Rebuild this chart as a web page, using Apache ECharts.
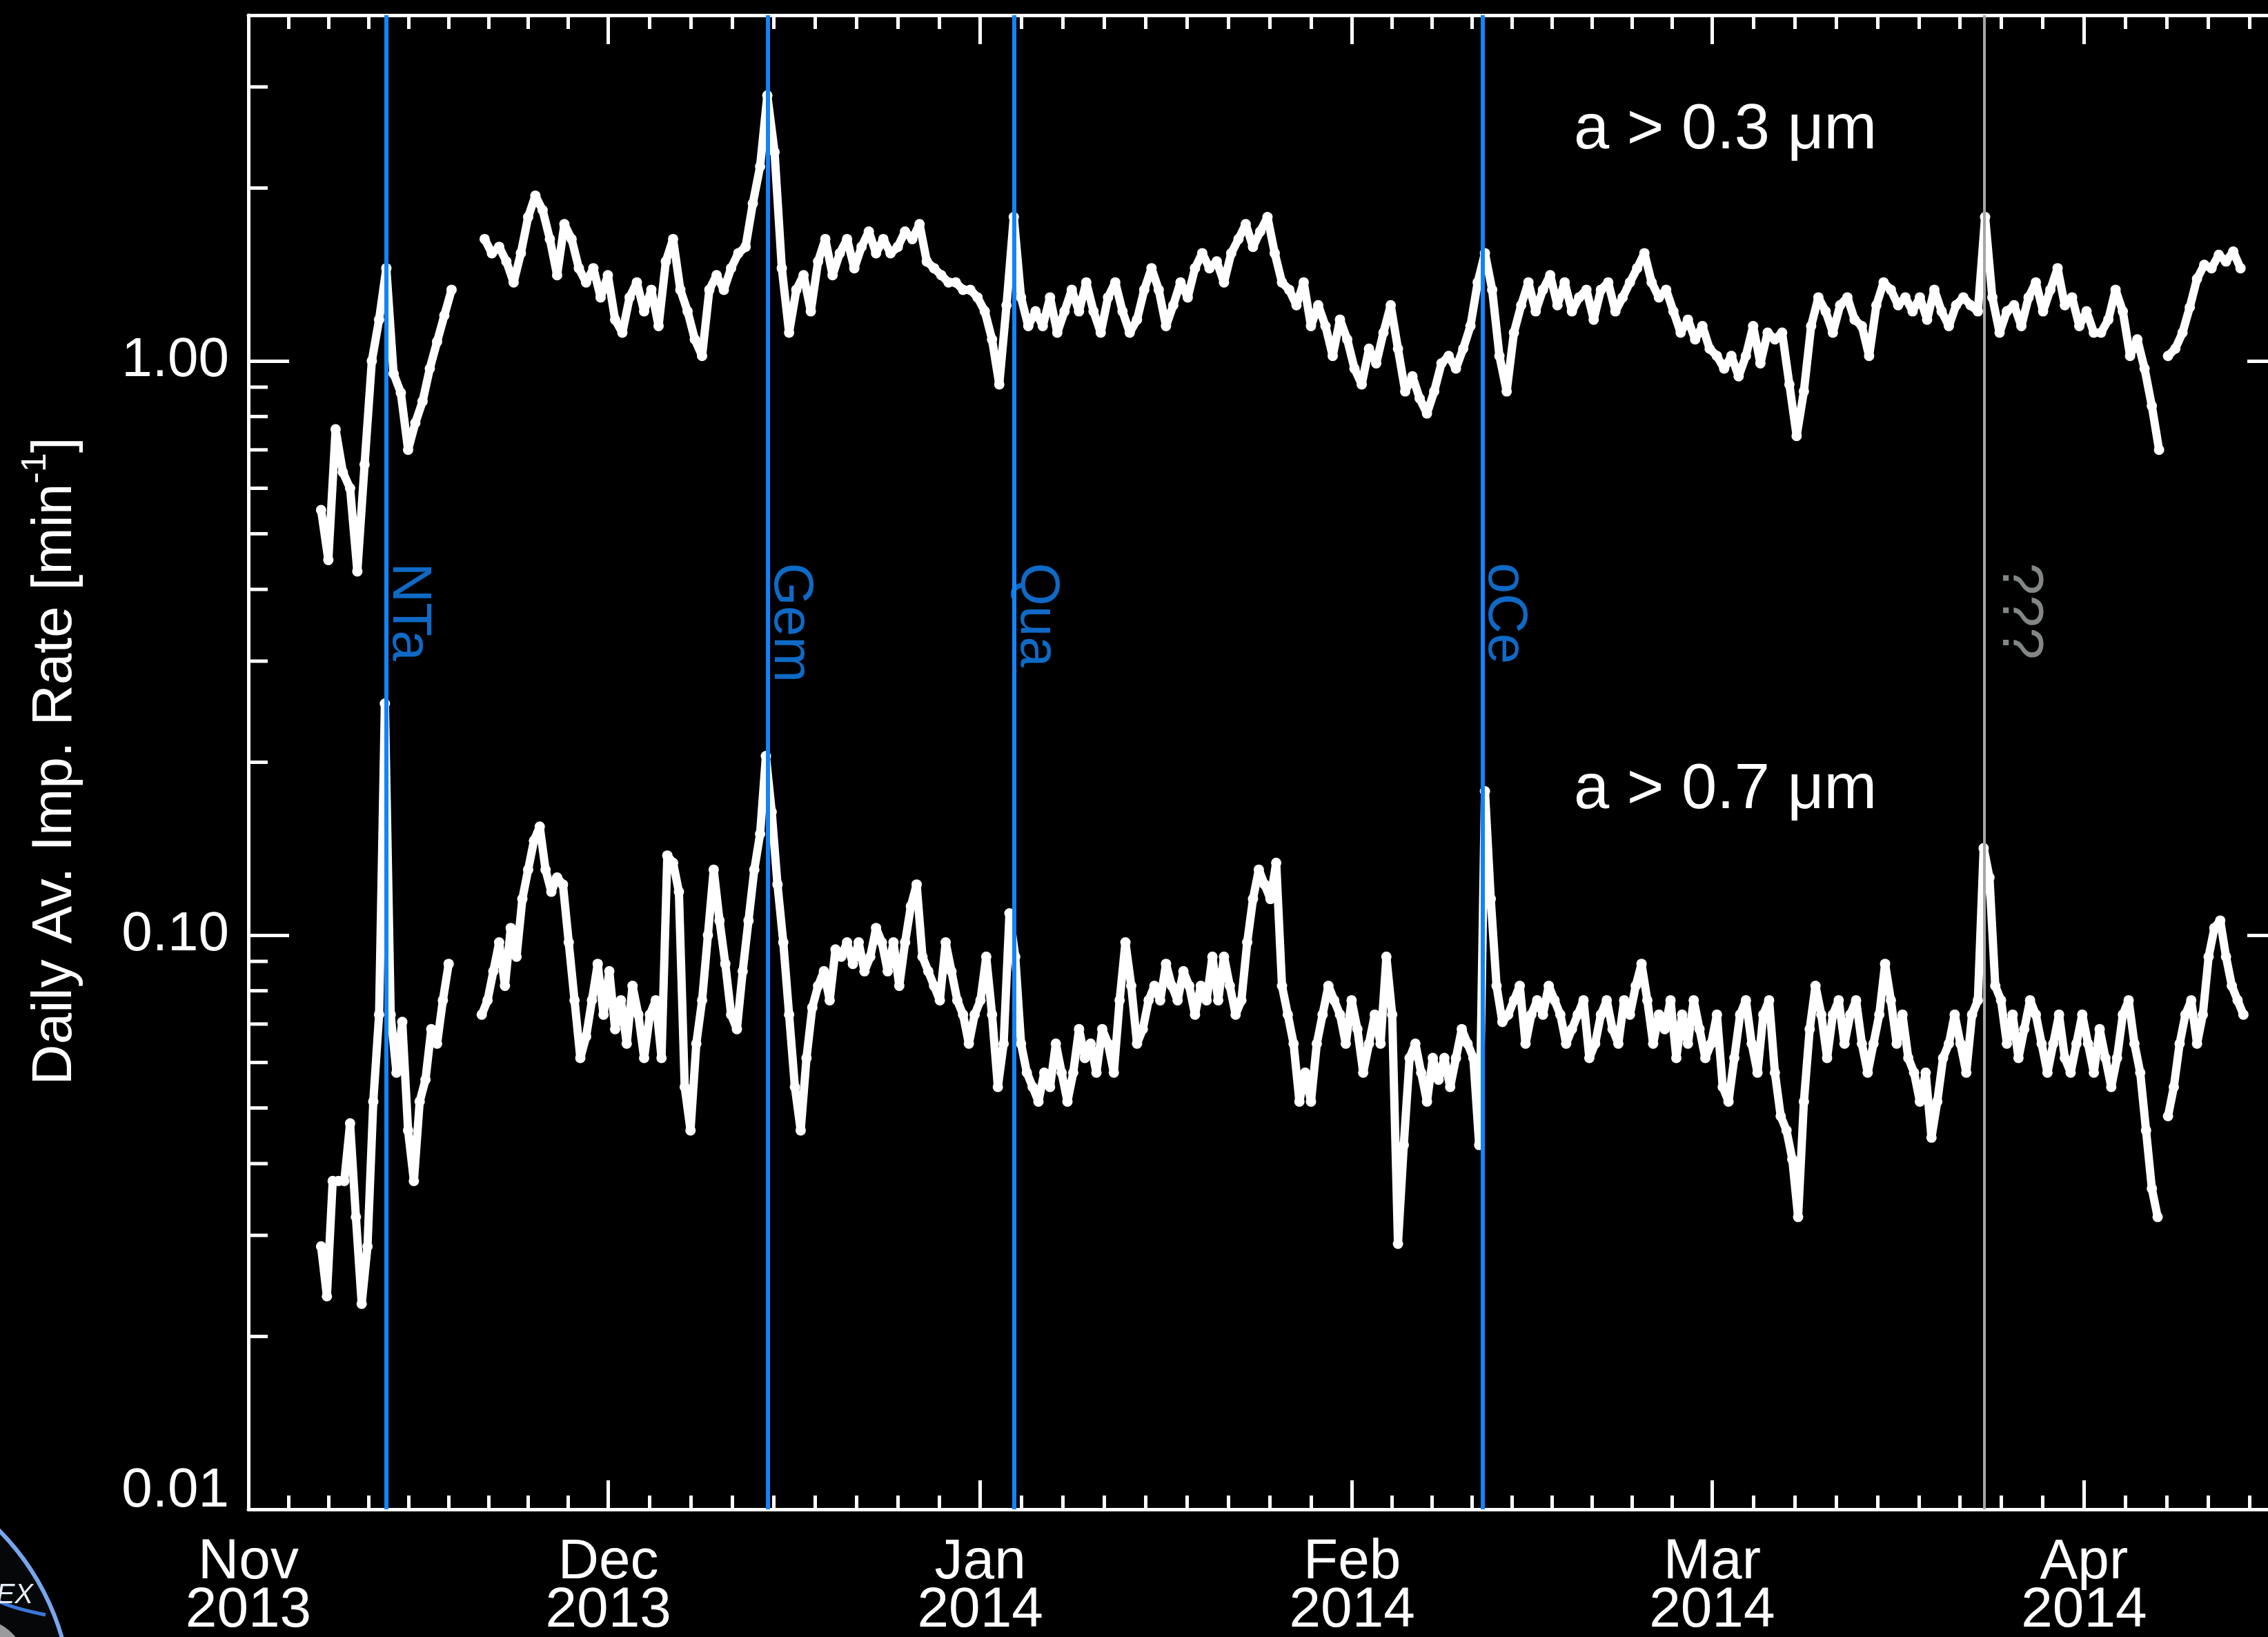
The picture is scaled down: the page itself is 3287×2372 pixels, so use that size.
<!DOCTYPE html>
<html>
<head>
<meta charset="utf-8">
<script src="https://cdn.jsdelivr.net/npm/echarts@6/dist/echarts.min.js"></script>
<style>
  html, body { margin: 0; padding: 0; background: #000; }
  #chart { width: 3287px; height: 2372px; }
</style>
</head>
<body>
<div id="chart"></div>
<script>
// Daily averaged dust impact rates, LDEX, Nov 2013 - Apr 2014.
// Time is counted in days from 2013-11-01 00:00.

const monthTickDays = [0, 30, 61, 92, 122, 153, 184];
const monthTickLabels = ['Nov\n2013', 'Dec\n2013', 'Jan\n2014', 'Feb\n2014', 'Mar\n2014', 'Apr\n2014', 'May\n2014'];

const rateTickValues = [0.01, 0.1, 1];
const rateTickLabels = ['0.01', '0.10', '1.00'];
const rateMinorTicks = [0.02, 0.03, 0.04, 0.05, 0.06, 0.07, 0.08, 0.09,
                        0.2, 0.3, 0.4, 0.5, 0.6, 0.7, 0.8, 0.9, 2, 3];

// meteor showers (and one unidentified event)
const showerDays = [11.5, 43.3, 63.85, 102.85, 144.7];
const showerNames = ['NTa', 'Gem', 'Qua', 'oCe', '???'];
const showerKnown = [true, true, true, true, false];

// a > 0.3 µm: readings every 14.5 h, three runs
const large03StepHours = 14.5;
const large03Starts = [6.06, 19.69, 160.0];
const large03Run1 = [0.55, 0.45, 0.76, 0.64, 0.60, 0.43, 0.66, 1.00, 1.18, 1.45,
                     0.95, 0.88, 0.70, 0.78, 0.85, 0.97, 1.08, 1.20, 1.33];
const large03Run2 = [
  1.63, 1.54, 1.58, 1.49, 1.37, 1.54, 1.78, 1.94, 1.83, 1.63,
  1.41, 1.73, 1.63, 1.45, 1.37, 1.45, 1.29, 1.41, 1.18, 1.12,
  1.29, 1.37, 1.22, 1.33, 1.15, 1.49, 1.63, 1.33, 1.22, 1.09,
  1.02, 1.33, 1.41, 1.33, 1.45, 1.54, 1.58, 1.88, 2.18, 2.90,
  2.31, 1.45, 1.12, 1.33, 1.41, 1.22, 1.49, 1.63, 1.41, 1.54,
  1.63, 1.45, 1.58, 1.68, 1.54, 1.63, 1.54, 1.58, 1.68, 1.63,
  1.73, 1.49, 1.45, 1.41, 1.37, 1.37, 1.33, 1.33, 1.29, 1.22,
  1.09, 0.91, 1.25, 1.78, 1.29, 1.15, 1.22, 1.15, 1.29, 1.12,
  1.22, 1.33, 1.22, 1.37, 1.22, 1.12, 1.29, 1.37, 1.22, 1.12,
  1.18, 1.33, 1.45, 1.33, 1.15, 1.25, 1.37, 1.29, 1.45, 1.54,
  1.45, 1.49, 1.37, 1.54, 1.63, 1.73, 1.58, 1.68, 1.78, 1.54,
  1.37, 1.33, 1.25, 1.37, 1.15, 1.25, 1.15, 1.02, 1.18, 1.09,
  0.97, 0.91, 1.05, 0.99, 1.12, 1.25, 1.05, 0.885, 0.94, 0.86,
  0.81, 0.885, 0.99, 1.02, 0.97, 1.05, 1.15, 1.37, 1.54, 1.33,
  1.02, 0.885, 1.12, 1.25, 1.37, 1.22, 1.33, 1.41, 1.25, 1.37,
  1.22, 1.29, 1.33, 1.18, 1.33, 1.37, 1.22, 1.29, 1.37, 1.45,
  1.54, 1.37, 1.29, 1.33, 1.22, 1.12, 1.18, 1.09, 1.15, 1.05,
  1.02, 0.97, 1.02, 0.94, 1.02, 1.15, 0.99, 1.12, 1.09, 1.12,
  0.91, 0.74, 0.885, 1.15, 1.29, 1.22, 1.12, 1.25, 1.29, 1.18,
  1.15, 1.02, 1.25, 1.37, 1.33, 1.25, 1.29, 1.22, 1.29, 1.18,
  1.33, 1.22, 1.15, 1.25, 1.29, 1.25, 1.22, 1.78, 1.29, 1.12,
  1.22, 1.25, 1.15, 1.29, 1.37, 1.22, 1.33, 1.45, 1.25, 1.29,
  1.15, 1.22, 1.12, 1.12, 1.18, 1.33, 1.22, 1.02, 1.09, 0.97,
  0.835, 0.70
];
const large03Run3 = [1.02, 1.05, 1.12, 1.24, 1.39, 1.47, 1.45, 1.53, 1.49, 1.55, 1.45];

// a > 0.7 µm: readings every 11.6 h, three runs
const large07StepHours = 11.6;
const large07Starts = [6.06, 19.45, 160.0];
const large07Run1 = [0.0287, 0.0235, 0.0373, 0.0373, 0.0373, 0.047, 0.0323, 0.0228, 0.0287, 0.0513,
                     0.0727, 0.253, 0.0727, 0.0576, 0.0706, 0.0457, 0.0373, 0.0513, 0.056, 0.0686,
                     0.0647, 0.077, 0.0891];
const large07Run2 = [
  0.0727, 0.077, 0.0865, 0.0971, 0.0816, 0.1029, 0.0917, 0.1156, 0.130, 0.146,
  0.1545, 0.130, 0.119, 0.126, 0.1225, 0.0971, 0.077, 0.0611, 0.0666, 0.077,
  0.0891, 0.0727, 0.0865, 0.0686, 0.077, 0.0647, 0.0816, 0.0727, 0.0611, 0.0727,
  0.077, 0.0611, 0.1376, 0.1336, 0.119, 0.0544, 0.0457, 0.0647, 0.077, 0.100,
  0.130, 0.106, 0.0891, 0.0727, 0.0686, 0.0865, 0.106, 0.130, 0.150, 0.205,
  0.164, 0.1225, 0.0971, 0.0727, 0.0544, 0.0457, 0.0611, 0.0748, 0.0816, 0.0865,
  0.077, 0.0944, 0.0917, 0.0971, 0.0891, 0.0971, 0.0865, 0.0917, 0.1029, 0.0971,
  0.0865, 0.0971, 0.0816, 0.0971, 0.1123, 0.1225, 0.0917, 0.0865, 0.0816, 0.077,
  0.0971, 0.0865, 0.077, 0.0727, 0.0647, 0.0727, 0.077, 0.0917, 0.0727, 0.0544,
  0.0647, 0.1091, 0.0917, 0.0647, 0.0576, 0.0544, 0.0513, 0.0576, 0.0544, 0.0647,
  0.0576, 0.0513, 0.0576, 0.0686, 0.0611, 0.0647, 0.0576, 0.0686, 0.0647, 0.0576,
  0.077, 0.0971, 0.0816, 0.0647, 0.0686, 0.077, 0.0816, 0.077, 0.0891, 0.0816,
  0.077, 0.0865, 0.0816, 0.0727, 0.0816, 0.077, 0.0917, 0.077, 0.0917, 0.0816,
  0.0727, 0.077, 0.0971, 0.1156, 0.130, 0.1225, 0.1156, 0.1336, 0.0816, 0.0727,
  0.0647, 0.0513, 0.0576, 0.0513, 0.0647, 0.0727, 0.0816, 0.077, 0.0727, 0.0647,
  0.077, 0.0686, 0.0576, 0.0647, 0.0727, 0.0647, 0.0917, 0.0727, 0.029, 0.0431,
  0.0611, 0.0647, 0.0576, 0.0513, 0.0611, 0.056, 0.0611, 0.0544, 0.0611, 0.0686,
  0.0647, 0.0611, 0.0431, 0.178, 0.1156, 0.0816, 0.0706, 0.0727, 0.077, 0.0816,
  0.0647, 0.0727, 0.077, 0.0727, 0.0816, 0.077, 0.0727, 0.0647, 0.0686, 0.0727,
  0.077, 0.0611, 0.0647, 0.0727, 0.077, 0.0686, 0.0647, 0.077, 0.0727, 0.0816,
  0.0891, 0.077, 0.0647, 0.0727, 0.0686, 0.077, 0.0611, 0.0727, 0.0647, 0.077,
  0.0686, 0.0611, 0.0647, 0.0727, 0.0544, 0.0513, 0.0611, 0.0727, 0.077, 0.0647,
  0.0576, 0.0727, 0.077, 0.0576, 0.0484, 0.0457, 0.0407, 0.0323, 0.0513, 0.0686,
  0.0816, 0.0727, 0.0611, 0.0727, 0.077, 0.0647, 0.0727, 0.077, 0.0647, 0.0576,
  0.0647, 0.0727, 0.0891, 0.077, 0.0647, 0.0727, 0.0611, 0.0576, 0.0513, 0.0576,
  0.0444, 0.0513, 0.0611, 0.0647, 0.0727, 0.0647, 0.0576, 0.0727, 0.077, 0.1417,
  0.126, 0.0816, 0.077, 0.0647, 0.0727, 0.0611, 0.0686, 0.077, 0.0727, 0.0647,
  0.0576, 0.0647, 0.0727, 0.0611, 0.0576, 0.0647, 0.0727, 0.0647, 0.0576, 0.0686,
  0.0611, 0.0544, 0.0611, 0.0727, 0.077, 0.0647, 0.0576, 0.0457, 0.0362, 0.0323
];
const large07Run3 = [0.0484, 0.0544, 0.0647, 0.0727, 0.077, 0.0647, 0.0727, 0.0917, 0.1029, 0.106,
                     0.0917, 0.0816, 0.077, 0.0727];

// ---------------------------------------------------------------------------

const FONT = '"Liberation Sans", Helvetica, Arial, sans-serif';
const WHITE = '#ffffff';
const SHOWER_BLUE = '#1384f8';
const UNKNOWN_GREY = '#a4a8a8';
const X_MIN = 0, X_MAX = 170;
const Y_MIN = 0.01, Y_MAX = 4;

function buildRuns(starts, runs, stepHours) {
  const step = stepHours / 24;
  const out = [];
  runs.forEach((vals, r) => {
    if (r > 0) out.push([starts[r] - step, '-']); // gap between runs
    vals.forEach((v, i) => out.push([starts[r] + i * step, v]));
  });
  return out;
}

const large03Data = buildRuns(large03Starts, [large03Run1, large03Run2, large03Run3], large03StepHours);
const large07Data = buildRuns(large07Starts, [large07Run1, large07Run2, large07Run3], large07StepHours);

// nine minor divisions between consecutive month ticks
const minorDays = [];
for (let i = 0; i < monthTickDays.length - 1; i++) {
  const a = monthTickDays[i], b = monthTickDays[i + 1];
  for (let k = 1; k < 9; k++) minorDays.push(a + (b - a) * k / 9);
}
const majorDaysInRange = monthTickDays.filter(d => d <= X_MAX);
const minorDaysInRange = minorDays.filter(d => d <= X_MAX);

function monthLabel(v) {
  const i = monthTickDays.indexOf(v);
  return i >= 0 ? monthTickLabels[i] : '';
}
function rateLabel(v) {
  for (let i = 0; i < rateTickValues.length; i++) {
    if (Math.abs(Math.log10(v) - Math.log10(rateTickValues[i])) < 1e-6) {
      return i === 0 ? '{lo|' + rateTickLabels[i] + '}' : rateTickLabels[i];
    }
  }
  return '';
}

function xAxisDef(position, ticks, len, withLine, withLabels) {
  return {
    type: 'value', gridIndex: 0, position: position, min: X_MIN, max: X_MAX,
    axisLine: { show: withLine, onZero: false, lineStyle: { color: WHITE, width: 5 } },
    axisTick: { show: true, inside: true, length: len, customValues: ticks,
                lineStyle: { color: WHITE, width: 5 } },
    axisLabel: withLabels ? {
      show: true, customValues: majorDaysInRange, formatter: monthLabel,
      color: WHITE, fontFamily: FONT, fontSize: 82, lineHeight: 70, margin: 42
    } : { show: false },
    splitLine: { show: false }
  };
}

const chart = echarts.init(document.getElementById('chart'), null, { renderer: 'canvas', width: 3287, height: 2372 });

const pointSeries = (name, data) => ({
  type: 'line', name: name, xAxisIndex: 0, yAxisIndex: 0, z: 3,
  data: data, connectNulls: false,
  symbol: 'circle', symbolSize: 15, showSymbol: true, showAllSymbol: true,
  itemStyle: { color: WHITE },
  lineStyle: { color: WHITE, width: 12, join: 'round', cap: 'round' }
});

const option = {
  backgroundColor: '#000000',
  animation: false,
  grid: { left: 360, right: -29, top: 22, bottom: 185, containLabel: false, outerBoundsMode: 'none' },
  xAxis: [
    xAxisDef('bottom', majorDaysInRange, 42, true, true),
    xAxisDef('bottom', minorDaysInRange, 20, false, false),
    xAxisDef('top', majorDaysInRange, 42, true, false),
    xAxisDef('top', minorDaysInRange, 20, false, false)
  ],
  yAxis: [
    {
      type: 'log', logBase: 10, min: Y_MIN, max: Y_MAX, position: 'left', gridIndex: 0,
      axisLine: { show: true, onZero: false, lineStyle: { color: WHITE, width: 5 } },
      axisTick: { show: true, inside: true, length: 59, lineStyle: { color: WHITE, width: 5 } },
      axisLabel: {
        show: true, formatter: rateLabel, color: WHITE, fontFamily: FONT, fontSize: 80, margin: 28,
        rich: { lo: { color: WHITE, fontFamily: FONT, fontSize: 80, padding: [0, 0, 52, 0] } }
      },
      splitLine: { show: false }
    },
    {
      type: 'log', logBase: 10, min: Y_MIN, max: Y_MAX, position: 'right', gridIndex: 0,
      axisLine: { show: true, onZero: false, lineStyle: { color: WHITE, width: 5 } },
      axisTick: { show: true, inside: true, length: 59, lineStyle: { color: WHITE, width: 5 } },
      axisLabel: { show: false },
      splitLine: { show: false }
    }
  ],
  graphic: [
    // axis title
    {
      type: 'text', x: 80, y: 1103, rotation: Math.PI / 2, silent: true,
      style: {
        text: 'Daily Av. Imp. Rate [min{sup|-1}]',
        fill: WHITE, fontFamily: FONT, fontSize: 82, lineHeight: 105,
        align: 'center', verticalAlign: 'middle',
        rich: { sup: { fill: WHITE, fontFamily: FONT, fontSize: 50, lineHeight: 50, verticalAlign: 'top' } }
      }
    },
    // size thresholds
    {
      type: 'text', x: 2281, y: 190, silent: true,
      style: { text: 'a > 0.3 μm', fill: WHITE, fontFamily: FONT, fontSize: 92, align: 'left', verticalAlign: 'middle' }
    },
    {
      type: 'text', x: 2281, y: 1146, silent: true,
      style: { text: 'a > 0.7 μm', fill: WHITE, fontFamily: FONT, fontSize: 92, align: 'left', verticalAlign: 'middle' }
    },
    // instrument badge in the corner
    {
      type: 'group', silent: true,
      children: [
        { type: 'circle', shape: { cx: -261, cy: 2474, r: 365 }, style: { fill: '#060708', stroke: '#78a6ee', lineWidth: 6 } },
        { type: 'circle', shape: { cx: -40, cy: 2425, r: 82 }, style: { fill: '#9a9b9c' } },
        { type: 'bezierCurve', shape: { x1: -20, y1: 2312, cpx1: 15, cpy1: 2330, cpx2: 40, cpy2: 2334, x2: 66, y2: 2340 },
          style: { stroke: '#3b78d8', lineWidth: 5, fill: null } },
        { type: 'text', x: 48, y: 2312,
          style: { text: 'LDEX', fill: '#e4ebf6', fontFamily: FONT, fontSize: 40, fontStyle: 'italic',
                   align: 'right', verticalAlign: 'middle' } }
      ]
    }
  ],
  series: [
    // shower markers: vertical lines plus rotated names
    {
      type: 'scatter', name: 'showers', xAxisIndex: 0, yAxisIndex: 0, z: 1, silent: true,
      symbol: 'circle', symbolSize: 1, itemStyle: { color: 'rgba(0,0,0,0)' },
      data: showerDays.map((d, i) => ({
        value: [d, 0.445],
        name: showerNames[i],
        label: showerKnown[i]
          ? { color: SHOWER_BLUE, fontSize: 80, lineHeight: 64 }
          : { color: UNKNOWN_GREY, fontSize: 84, lineHeight: 100 }
      })),
      label: {
        show: true, formatter: p => p.name, position: 'inside', rotate: -90,
        align: 'left', verticalAlign: 'bottom', fontFamily: FONT
      },
      markLine: {
        silent: true, symbol: ['none', 'none'], animation: false,
        label: { show: false },
        data: showerDays.map((d, i) => ({
          xAxis: d,
          lineStyle: showerKnown[i]
            ? { color: SHOWER_BLUE, width: 6, type: 'solid' }
            : { color: UNKNOWN_GREY, width: 4, type: 'solid' }
        }))
      }
    },
    // minor ticks of the logarithmic rate axis (left and right frame)
    {
      type: 'custom', name: 'rateMinorTicks', xAxisIndex: 0, yAxisIndex: 0, z: 2, silent: true,
      data: rateMinorTicks.map(v => [X_MIN, v]),
      renderItem: (params, api) => {
        const cs = params.coordSys;
        const y = api.coord([X_MIN, api.value(1)])[1];
        const st = { stroke: WHITE, lineWidth: 5 };
        return {
          type: 'group',
          children: [
            { type: 'line', shape: { x1: cs.x, y1: y, x2: cs.x + 28, y2: y }, style: st },
            { type: 'line', shape: { x1: cs.x + cs.width, y1: y, x2: cs.x + cs.width - 28, y2: y }, style: st }
          ]
        };
      }
    },
    pointSeries('a > 0.3 μm', large03Data),
    pointSeries('a > 0.7 μm', large07Data)
  ]
};

chart.setOption(option);
</script>
</body>
</html>
